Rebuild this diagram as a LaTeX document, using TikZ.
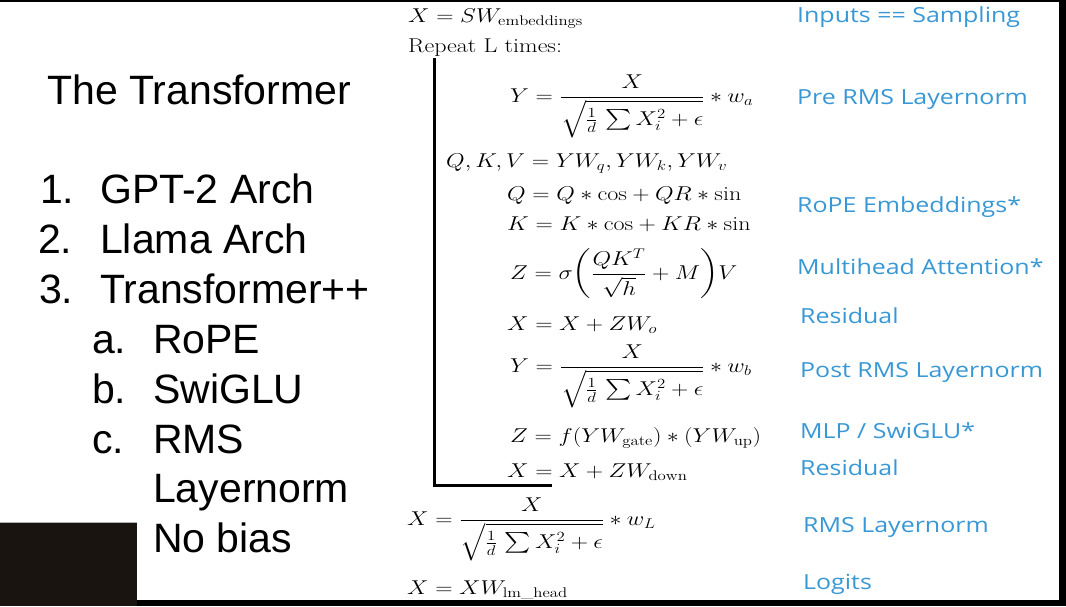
\RequirePackage{fix-cm}
\documentclass[tikz,border=0pt]{standalone}
\usepackage{amsmath}
\usepackage{graphicx}
\usepackage{fontspec}
\newfontfamily\slidefont{Liberation Sans}
\newfontfamily\notefont{Open Sans}
\definecolor{noteblue}{RGB}{56,152,214}
\definecolor{curtain}{RGB}{26,20,17}
\newcommand{\stretchx}[1]{\scalebox{1.2}[1]{#1}}
\newcommand{\rmsfrac}{\frac{X}{\sqrt{\frac{1}{d}\,\sum X_i^2+\epsilon}}}

\begin{document}
\begin{tikzpicture}[x=1pt,y=-1pt,
  slide/.style={anchor=base west, inner sep=0pt, font=\slidefont\fontsize{41}{48}\selectfont},
  eqn/.style={anchor=base west, inner sep=0pt, font=\fontsize{20}{24}\selectfont},
  note/.style={anchor=base west, inner sep=0pt, text=noteblue, font=\notefont\fontsize{20.8}{24}\selectfont}]
  \useasboundingbox (0,0) rectangle (1066,606);
  \fill[white] (0,0) rectangle (1066,606);
  % frame and corner
  \fill[black] (0,0) rectangle (1066,2);
  \fill[black] (1059,0) rectangle (1066,606);
  \fill[black] (0,600) rectangle (1066,606);
  \fill[curtain] (0,522) rectangle (137,606);
  \draw[gray!60, line width=1pt] (0,522) -- (137,522);

  % left column
  \node[slide] (title) at (47,104) {The Transformer};
  \node[slide] (n1) at (40,203) {1.};
  \node[slide] (gpt) at (100,203) {GPT-2 Arch};
  \node[slide] (n2) at (38,253) {2.};
  \node[slide] (llama) at (100,253) {Llama Arch};
  \node[slide] (n3) at (39,303) {3.};
  \node[slide] (tpp) at (100,303) {Transformer++};
  \node[slide] (na) at (92,353) {a.};
  \node[slide] (rope) at (153,353) {RoPE};
  \node[slide] (nb) at (92,403) {b.};
  \node[slide] (swiglu) at (153,403) {SwiGLU};
  \node[slide] (nc) at (92,453) {c.};
  \node[slide] (rms) at (153,453) {RMS};
  \node[slide] (lnorm) at (153,502) {Layernorm};
  \node[slide] (nobias) at (153,552) {No bias};

  % equations
  \node[eqn] (emb) at (408,22) {\stretchx{$X=SW_{\mathrm{embeddings}}$}};
  \node[eqn] (repeat) at (408,52) {\stretchx{Repeat L times:}};
  \node[eqn] (prenorm) at (510,102) {\stretchx{$\displaystyle Y=\rmsfrac*w_a$}};
  \node[eqn] (qkv) at (446,167) {\stretchx{$Q,K,V=YW_q,YW_k,YW_v$}};
  \node[eqn] (ropeq) at (507,200) {\stretchx{$Q=Q*{\cos}+QR*{\sin}$}};
  \node[eqn] (ropek) at (507,230) {\stretchx{$K=K*{\cos}+KR*{\sin}$}};
  \node[eqn] (attn) at (510,279) {\stretchx{$\displaystyle Z=\sigma\!\left(\frac{QK^T}{\sqrt{h}}+M\right)\!V$}};
  \node[eqn] (res1) at (507,330) {\stretchx{$X=X+ZW_o$}};
  \node[eqn] (postnorm) at (510,372) {\stretchx{$\displaystyle Y=\rmsfrac*w_b$}};
  \node[eqn] (mlp) at (510,442) {\stretchx{$Z=f(YW_{\mathrm{gate}})*(YW_{\mathrm{up}})$}};
  \node[eqn] (res2) at (507,477) {\stretchx{$X=X+ZW_{\mathrm{down}}$}};
  \node[eqn] (finalnorm) at (407,525) {\stretchx{$\displaystyle X=\rmsfrac*w_L$}};
  \node[eqn] (head) at (407,594) {\stretchx{$X=XW_{\mathrm{lm\_head}}$}};

  % repeat bracket
  \coordinate (looptop) at (434,58);
  \coordinate (loopcorner) at (434,485);
  \coordinate (loopend) at (552,485);
  \draw[line width=3pt] (looptop) -- (loopcorner) -- (loopend);

  % blue notes
  \node[note] (t-in) at (797,22) {\stretchx{Inputs == Sampling}};
  \node[note] (t-pre) at (797,104) {\stretchx{Pre RMS Layernorm}};
  \node[note] (t-rope) at (797,212) {\stretchx{RoPE Embeddings*}};
  \node[note] (t-attn) at (797,274) {\stretchx{Multihead Attention*}};
  \node[note] (t-res1) at (800,323) {\stretchx{Residual}};
  \node[note] (t-post) at (800,377) {\stretchx{Post RMS Layernorm}};
  \node[note] (t-mlp) at (800,438) {\stretchx{MLP / SwiGLU*}};
  \node[note] (t-res2) at (800,475) {\stretchx{Residual}};
  \node[note] (t-rms) at (803,532) {\stretchx{RMS Layernorm}};
  \node[note] (t-logit) at (803,589) {\stretchx{Logits}};
\end{tikzpicture}
\end{document}
